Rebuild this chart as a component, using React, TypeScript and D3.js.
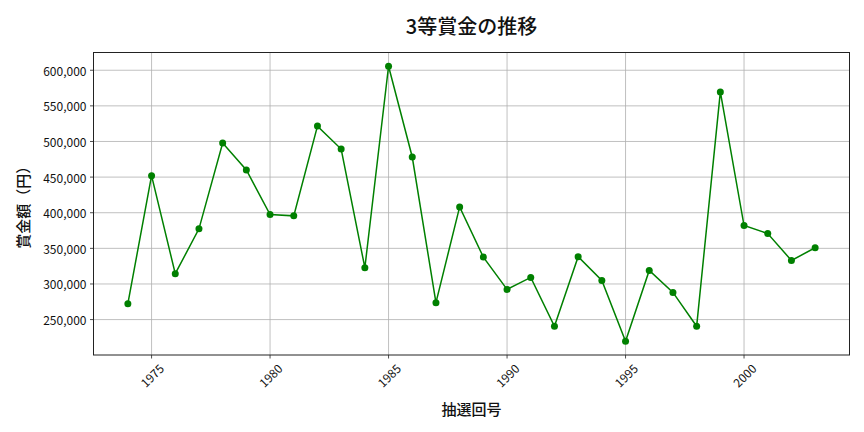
import React from "react";
import * as d3 from "d3";

const years: number[] = [1974,1975,1976,1977,1978,1979,1980,1981,1982,1983,1984,1985,1986,1987,1988,1989,1990,1991,1992,1993,1994,1995,1996,1997,1998,1999,2000,2001,2002,2003];
const prizes: number[] = [272400,452000,314400,377400,497800,460000,397400,395600,521600,489400,322800,605600,478200,273800,408200,337700,292400,309200,240600,338200,305000,219600,319000,288200,240600,569600,382000,370800,333000,350800];
const xTicks: number[] = [1975,1980,1985,1990,1995,2000];
const yTicks: number[] = [250000,300000,350000,400000,450000,500000,550000,600000];

const title = "3等賞金の推移";
const xLabel = "抽選回号";
const yLabel = "賞金額（円）";

const W = 864, H = 432;
const M = { left: 93.5, right: 849.5, top: 52.5, bottom: 355 };
const FONT = "'Noto Sans CJK JP', 'Noto Sans', sans-serif";

export default function App() {
  const xMin = d3.min(years)!, xMax = d3.max(years)!;
  const xPad = (xMax - xMin) * 0.05;
  const yMin = d3.min(prizes)!, yMax = d3.max(prizes)!;
  const yPad = (yMax - yMin) * 0.05;
  const x = d3.scaleLinear().domain([xMin - xPad, xMax + xPad]).range([M.left, M.right]);
  const y = d3.scaleLinear().domain([yMin - yPad, yMax + yPad]).range([M.bottom, M.top]);
  const line = d3.line<number>().x((_, i) => x(years[i])).y((d) => y(d));
  const fmt = d3.format(",");
  const cx = (M.left + M.right) / 2;
  const cy = (M.top + M.bottom) / 2;

  return (
    <svg width={W} height={H} style={{ position: "absolute", left: 0, top: 0, background: "#fff" }} fontFamily={FONT}>
      <rect x={0} y={0} width={W} height={H} fill="#fff" />
      {xTicks.map((t) => (
        <line key={"gx" + t} x1={x(t)} x2={x(t)} y1={M.top} y2={M.bottom} stroke="#b0b0b0" strokeWidth={0.8} />
      ))}
      {yTicks.map((t) => (
        <line key={"gy" + t} x1={M.left} x2={M.right} y1={y(t)} y2={y(t)} stroke="#b0b0b0" strokeWidth={0.8} />
      ))}
      <path d={line(prizes) || ""} fill="none" stroke="#008000" strokeWidth={1.5} />
      {prizes.map((v, i) => (
        <circle key={"p" + i} cx={x(years[i])} cy={y(v)} r={3.5} fill="#008000" />
      ))}
      <rect x={M.left} y={M.top} width={M.right - M.left} height={M.bottom - M.top} fill="none" stroke="#222" strokeWidth={1} />
      {xTicks.map((t) => (
        <g key={"xt" + t}>
          <line x1={x(t)} x2={x(t)} y1={M.bottom} y2={M.bottom + 3.5} stroke="#222" strokeWidth={0.8} />
          <text
            transform={`translate(${x(t)},${M.bottom + 20}) rotate(-45)`}
            textAnchor="middle"
            dominantBaseline="central"
            fontSize={12}
            fill="#111"
          >
            {t}
          </text>
        </g>
      ))}
      {yTicks.map((t) => (
        <g key={"yt" + t}>
          <line x1={M.left - 3.5} x2={M.left} y1={y(t)} y2={y(t)} stroke="#222" strokeWidth={0.8} />
          <text x={M.left - 7} y={y(t)} textAnchor="end" dominantBaseline="central" fontSize={12} fill="#111">
            {fmt(t)}
          </text>
        </g>
      ))}
      <text x={cx} y={25} textAnchor="middle" dominantBaseline="central" fontSize={20} fontWeight={500} fill="#111">
        {title}
      </text>
      <text x={cx} y={408} textAnchor="middle" dominantBaseline="central" fontSize={15} fontWeight={500} fill="#111">
        {xLabel}
      </text>
      <text
        transform={`translate(22,${cy}) rotate(-90)`}
        textAnchor="middle"
        dominantBaseline="central"
        fontSize={15}
        fontWeight={500}
        fill="#111"
      >
        {yLabel}
      </text>
    </svg>
  );
}
